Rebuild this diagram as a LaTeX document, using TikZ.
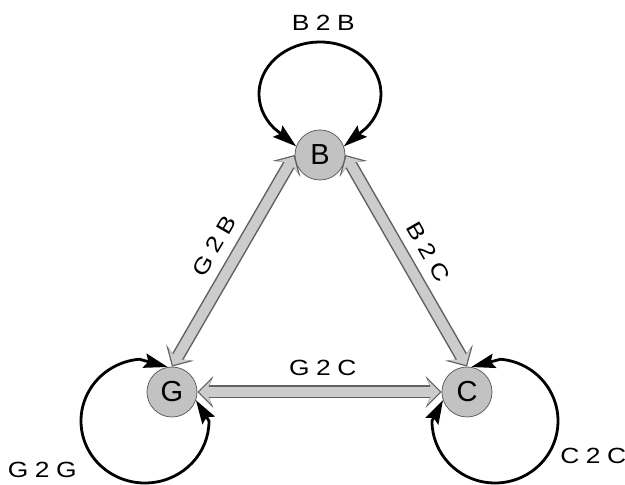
\documentclass[tikz,border=0pt]{standalone}
\usepackage{fontspec}
\setmainfont{Liberation Sans}
\newfontfamily\lblfont[FakeStretch=1.2,LetterSpace=30]{Liberation Sans}
\usetikzlibrary{arrows.meta,calc}
\definecolor{edgefill}{gray}{0.80}
\definecolor{edgeline}{gray}{0.38}
\definecolor{nodefill}{gray}{0.76}
\begin{document}
\begin{tikzpicture}[x=1pt,y=1pt,
  state/.style={circle, draw=edgeline, line width=0.8pt, fill=nodefill, minimum size=50pt, inner sep=0pt, font=\fontsize{29}{29}\selectfont},
  lbl/.style={font=\lblfont\fontsize{22}{22}\selectfont, inner sep=2pt, text=black},
  outerarrow/.style={draw=edgeline, line width=13pt, {Stealth[length=16pt,width=32pt,inset=7pt,line width=0pt]}-{Stealth[length=16pt,width=32pt,inset=7pt,line width=0pt]}},
  innerarrow/.style={draw=edgefill, line width=10pt, shorten <=1.8pt, shorten >=1.8pt, {Stealth[length=12.5pt,width=25pt,inset=5.5pt,line width=0pt]}-{Stealth[length=12.5pt,width=25pt,inset=5.5pt,line width=0pt]}},
  loopline/.style={draw=black, line width=2.8pt, {Stealth[length=24pt,width=15pt,inset=4pt,line width=0pt]}-{Stealth[length=24pt,width=15pt,inset=4pt,line width=0pt]}},
]
\fill[white] (0,0) rectangle (625,485);
\useasboundingbox (0,0) rectangle (625,485);

\node[state] (B) at (320,330) {B};
\node[state] (G) at (172,93) {G};
\node[state] (C) at (467,93) {C};

% gray double-headed edges
\draw[outerarrow] (G.north) -- (B.west);
\draw[innerarrow] (G.north) -- (B.west) node[midway, sloped, above=9pt, lbl] (lGB) {G2B\kern-6.6pt};
\draw[outerarrow] (B.east) -- (C.north);
\draw[innerarrow] (B.east) -- (C.north) node[midway, sloped, above=9pt, lbl] (lBC) {B2C\kern-6.6pt};
\draw[outerarrow] (G.east) -- (C.west);
\draw[innerarrow] (G.east) -- (C.west) node[midway, above=9pt, lbl] (lGC) {G2C\kern-6.6pt};

% self loops
\coordinate (bbS) at ($(B)+(-46.04,26.9)$);
\draw[loopline] (B.160) -- (bbS) arc[start angle=221, end angle=-41, x radius=61, y radius=52] -- (B.20);
\coordinate (ggS) at ($(G)+(-32.58,32.76)$);
\draw[loopline] (G.100) -- (ggS) arc[start angle=95, end angle=360, x radius=64, y radius=62] -- (G.-19);
\coordinate (ccS) at ($(C)+(33.49,32.76)$);
\draw[loopline] (C.80) -- (ccS) arc[start angle=85, end angle=-180, x radius=63, y radius=62] -- (C.199);

% loop labels
\node[lbl] (lBB) at (320,462) {B2B\kern-6.6pt};
\node[lbl] (lGG) at (39,15) {G2G\kern-6.6pt};
\node[lbl] (lCC) at (590,29) {C2C\kern-6.6pt};
\end{tikzpicture}
\end{document}
